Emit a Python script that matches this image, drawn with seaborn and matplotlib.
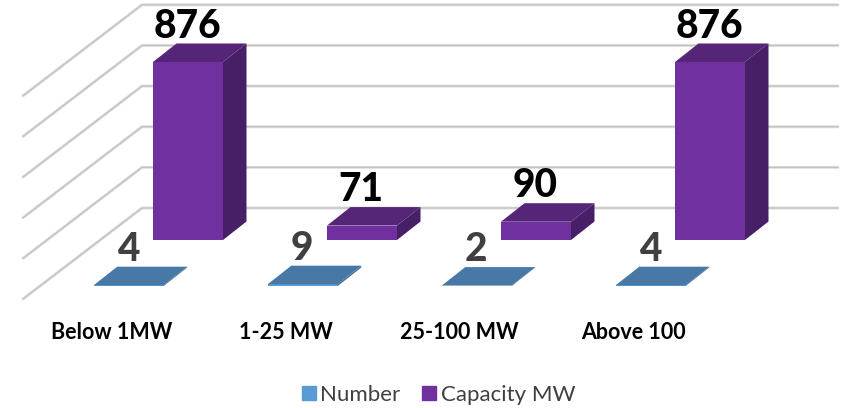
import matplotlib
matplotlib.use("Agg")
import matplotlib.pyplot as plt
from matplotlib.patches import Patch, Polygon
import numpy as np
import pandas as pd
import seaborn as sns

categories = ["Below 1MW", "1-25 MW", "25-100 MW", "Above 100"]
number = [4, 9, 2, 4]
capacity_mw = [876, 71, 90, 876]
grid_values = [0, 200, 400, 600, 800, 1000]

WIDTH, HEIGHT = 847, 408
CAT_PX = 174.0        # pixels per category
UNIT_PX = 0.2032      # pixels per value unit
BAR_WIDTH = 70 / CAT_PX
DEPTH_DX = 23.5 / CAT_PX
DEPTH_DY = 18.5 / UNIT_PX

PURPLE, PURPLE_TOP, PURPLE_SIDE = "#7030a0", "#552578", "#471f66"
BLUE, BLUE_TOP, BLUE_SIDE = "#5b9bd5", "#4878a5", "#3f6c96"

sns.set_theme(style="white")
plt.rcParams["font.family"] = ["Lato", "DejaVu Sans"]

fig = plt.figure(figsize=(WIDTH / 100, HEIGHT / 100), dpi=100)
df = pd.DataFrame({"category": categories, "number": number, "capacity": capacity_mw})


def depth_plane(first_center_px, zero_y_px):
    """Transparent axes for one depth plane of the pseudo-3D scene."""
    left = first_center_px - CAT_PX / 2
    ax = fig.add_axes([left / WIDTH, 1 - zero_y_px / HEIGHT,
                       4 * CAT_PX / WIDTH, 1000 * UNIT_PX / HEIGHT])
    ax.patch.set_alpha(0)
    return ax


def finish_plane(ax):
    ax.set_xlim(-0.5, 3.5)
    ax.set_ylim(0, 1000)
    ax.set_xlabel("")
    ax.set_ylabel("")
    ax.set_yticks([])
    ax.set_xticks([])
    sns.despine(ax=ax, left=True, bottom=True)


def extrude(ax, top_color, side_color):
    """Add the top and side faces behind every front face of the bars."""
    for bar in list(ax.patches):
        x0, w, h = bar.get_x(), bar.get_width(), bar.get_height()
        top = [(x0, h), (x0 + w, h), (x0 + w + DEPTH_DX, h + DEPTH_DY), (x0 + DEPTH_DX, h + DEPTH_DY)]
        side = [(x0 + w, 0), (x0 + w + DEPTH_DX, DEPTH_DY),
                (x0 + w + DEPTH_DX, h + DEPTH_DY), (x0 + w, h)]
        ax.add_patch(Polygon(top, closed=True, fc=top_color, ec="none", clip_on=False))
        ax.add_patch(Polygon(side, closed=True, fc=side_color, ec="none", clip_on=False))


def value_labels(ax, values, color):
    for i, v in enumerate(values):
        ax.annotate(str(v), (i, v), xytext=(-0.5, 25.8), textcoords="offset points",
                    ha="center", va="center", fontsize=28, fontweight="black",
                    color=color, annotation_clip=False)


# Back wall and side wall gridlines
wall = depth_plane(142 + CAT_PX / 2, 208)
finish_plane(wall)
slant_dx, slant_dy = 119 / CAT_PX, 91 / UNIT_PX
for v in grid_values:
    xs = [3.5, -0.5, -0.5 - slant_dx]
    ys = [v, v, v - slant_dy]
    wall.plot(xs, ys, color="#e2e2e2", lw=2.2, clip_on=False, solid_joinstyle="miter")
    wall.plot(xs, ys, color="#c2c2c2", lw=1.0, clip_on=False, solid_joinstyle="miter")
finish_plane(wall)

# Capacity series, standing further back on the floor
ax_cap = depth_plane(188, 240)
sns.barplot(data=df, x="category", y="capacity", ax=ax_cap, color=PURPLE, saturation=1,
            width=BAR_WIDTH, linewidth=0)
extrude(ax_cap, PURPLE_TOP, PURPLE_SIDE)
value_labels(ax_cap, capacity_mw, "#000000")
finish_plane(ax_cap)

# Number series, in the front row
ax_num = depth_plane(128.75, 286)
sns.barplot(data=df, x="category", y="number", ax=ax_num, color=BLUE, saturation=1,
            width=BAR_WIDTH, linewidth=0)
extrude(ax_num, BLUE_TOP, BLUE_SIDE)
value_labels(ax_num, number, "#404040")
finish_plane(ax_num)

# Category labels along the front edge of the floor
ax_floor = depth_plane(111.5, 299)
finish_plane(ax_floor)
ax_floor.set_xticks(np.arange(len(categories)), categories)
ax_floor.tick_params(axis="x", length=0, pad=16.5)
for label in ax_floor.get_xticklabels():
    label.set_fontsize(15.5)
    label.set_fontweight("bold")
    label.set_color("#000000")

handles = [Patch(color=BLUE, label="Number"), Patch(color=PURPLE, label="Capacity MW")]
fig.legend(handles=handles, loc="center", bbox_to_anchor=(438.5 / WIDTH, 1 - 395 / HEIGHT),
           ncol=2, frameon=False, fontsize=16, handlelength=0.62, handleheight=0.62,
           handletextpad=0.2, columnspacing=1.0, labelcolor="#404040")

fig.savefig("out.png", dpi=100)
